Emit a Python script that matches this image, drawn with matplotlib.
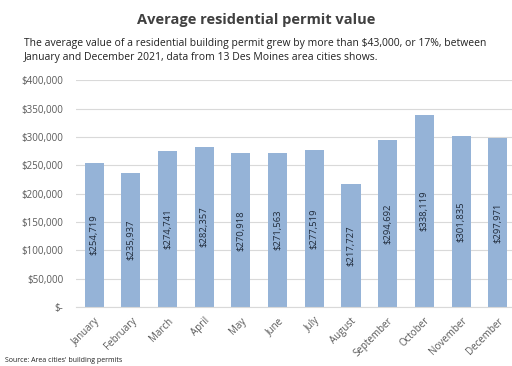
import matplotlib
matplotlib.use('Agg')
from matplotlib import pyplot as plt
from matplotlib import ticker

months = ['January', 'February', 'March', 'April', 'May', 'June', 'July',
          'August', 'September', 'October', 'November', 'December']
values = [254719, 235937, 274741, 282357, 270918, 271563, 277519,
          217727, 294692, 338119, 301835, 297971]
yticks = [0, 50000, 100000, 150000, 200000, 250000, 300000, 350000, 400000]

plt.rcParams['font.family'] = ['Open Sans', 'DejaVu Sans']

fig = plt.figure(figsize=(5.12, 3.66), dpi=100)
ax = fig.add_axes([0.148, 0.161, 0.86, 0.62])

x = range(len(months))
ax.bar(x, values, width=0.52, color='#95b3d7', zorder=2)
for i, v in enumerate(values):
    ax.text(i, v / 2, f'${v:,}', rotation=90, ha='center', va='center',
            fontsize=6.8, color='#1f2a3a', zorder=3)

ax.set_xlim(-0.5, 11.5)
ax.set_ylim(0, 400000)
ax.set_yticks(yticks)
ax.yaxis.set_major_formatter(ticker.FuncFormatter(
    lambda v, p: '$-' if v == 0 else f'${v:,.0f}'))
ax.set_xticks(list(x))
ax.set_xticklabels(months, rotation=45, ha='right', rotation_mode='anchor')
ax.tick_params(axis='both', length=0, labelsize=7, colors='#595959')
ax.tick_params(axis='y', pad=9)
ax.tick_params(axis='x', pad=6)
ax.grid(axis='y', color='#d9d9d9', linewidth=0.8, zorder=0)
for s in ['top', 'right', 'left']:
    ax.spines[s].set_visible(False)
ax.spines['bottom'].set_color('#d9d9d9')

fig.text(0.5, 0.945, 'Average residential permit value', ha='center',
         va='center', fontsize=10.5, fontweight='bold', color='#404040')
fig.text(0.047, 0.862, 'The average value of a residential building permit grew by more than $43,000, or 17%, between\n'
         'January and December 2021, data from 13 Des Moines area cities shows.',
         ha='left', va='center', fontsize=7.5, color='#222222', linespacing=1.45)
fig.text(0.01, 0.005, "Source: Area cities' building permits", ha='left',
         va='bottom', fontsize=5, color='#222222')

plt.savefig('out.png', dpi=100)
